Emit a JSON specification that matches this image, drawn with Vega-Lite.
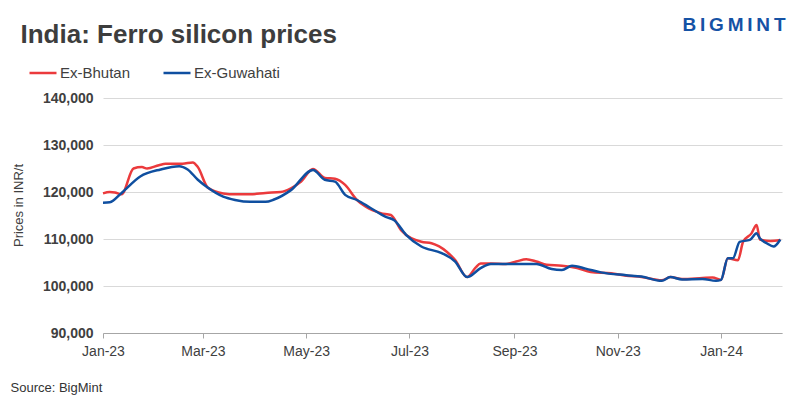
{
  "$schema": "https://vega.github.io/schema/vega-lite/v6.json",
  "width": 679,
  "height": 235,
  "autosize": "none",
  "padding": {"left": 103, "top": 98, "right": 18, "bottom": 66},
  "background": "white",
  "config": {"view": {"stroke": null}, "font": "Liberation Sans"},
  "datasets": {
    "prices": [
      {"date": "2023-01-01", "series": "Ex-Bhutan", "price": 119700},
      {"date": "2023-01-05", "series": "Ex-Bhutan", "price": 120000},
      {"date": "2023-01-08", "series": "Ex-Bhutan", "price": 119900},
      {"date": "2023-01-12", "series": "Ex-Bhutan", "price": 119500},
      {"date": "2023-01-19", "series": "Ex-Bhutan", "price": 125000},
      {"date": "2023-01-24", "series": "Ex-Bhutan", "price": 125300},
      {"date": "2023-01-27", "series": "Ex-Bhutan", "price": 125000},
      {"date": "2023-02-03", "series": "Ex-Bhutan", "price": 125700},
      {"date": "2023-02-07", "series": "Ex-Bhutan", "price": 126000},
      {"date": "2023-02-17", "series": "Ex-Bhutan", "price": 126000},
      {"date": "2023-02-23", "series": "Ex-Bhutan", "price": 126300},
      {"date": "2023-02-26", "series": "Ex-Bhutan", "price": 125300},
      {"date": "2023-03-04", "series": "Ex-Bhutan", "price": 120900},
      {"date": "2023-03-13", "series": "Ex-Bhutan", "price": 119700},
      {"date": "2023-03-20", "series": "Ex-Bhutan", "price": 119500},
      {"date": "2023-03-29", "series": "Ex-Bhutan", "price": 119500},
      {"date": "2023-04-07", "series": "Ex-Bhutan", "price": 119800},
      {"date": "2023-04-16", "series": "Ex-Bhutan", "price": 120000},
      {"date": "2023-04-22", "series": "Ex-Bhutan", "price": 120800},
      {"date": "2023-04-28", "series": "Ex-Bhutan", "price": 122200},
      {"date": "2023-05-05", "series": "Ex-Bhutan", "price": 124900},
      {"date": "2023-05-12", "series": "Ex-Bhutan", "price": 123000},
      {"date": "2023-05-18", "series": "Ex-Bhutan", "price": 122800},
      {"date": "2023-05-24", "series": "Ex-Bhutan", "price": 121500},
      {"date": "2023-05-31", "series": "Ex-Bhutan", "price": 118300},
      {"date": "2023-06-05", "series": "Ex-Bhutan", "price": 116900},
      {"date": "2023-06-14", "series": "Ex-Bhutan", "price": 115500},
      {"date": "2023-06-20", "series": "Ex-Bhutan", "price": 115100},
      {"date": "2023-06-26", "series": "Ex-Bhutan", "price": 111900},
      {"date": "2023-07-08", "series": "Ex-Bhutan", "price": 109400},
      {"date": "2023-07-14", "series": "Ex-Bhutan", "price": 109100},
      {"date": "2023-07-23", "series": "Ex-Bhutan", "price": 107300},
      {"date": "2023-07-28", "series": "Ex-Bhutan", "price": 105500},
      {"date": "2023-08-04", "series": "Ex-Bhutan", "price": 101900},
      {"date": "2023-08-09", "series": "Ex-Bhutan", "price": 103900},
      {"date": "2023-08-12", "series": "Ex-Bhutan", "price": 104800},
      {"date": "2023-08-18", "series": "Ex-Bhutan", "price": 104800},
      {"date": "2023-08-27", "series": "Ex-Bhutan", "price": 104700},
      {"date": "2023-09-02", "series": "Ex-Bhutan", "price": 105200},
      {"date": "2023-09-08", "series": "Ex-Bhutan", "price": 105700},
      {"date": "2023-09-14", "series": "Ex-Bhutan", "price": 105200},
      {"date": "2023-09-20", "series": "Ex-Bhutan", "price": 104500},
      {"date": "2023-09-29", "series": "Ex-Bhutan", "price": 104300},
      {"date": "2023-10-08", "series": "Ex-Bhutan", "price": 103800},
      {"date": "2023-10-16", "series": "Ex-Bhutan", "price": 103000},
      {"date": "2023-10-28", "series": "Ex-Bhutan", "price": 102700},
      {"date": "2023-11-06", "series": "Ex-Bhutan", "price": 102200},
      {"date": "2023-11-15", "series": "Ex-Bhutan", "price": 101900},
      {"date": "2023-11-27", "series": "Ex-Bhutan", "price": 101200},
      {"date": "2023-12-02", "series": "Ex-Bhutan", "price": 101900},
      {"date": "2023-12-09", "series": "Ex-Bhutan", "price": 101500},
      {"date": "2023-12-21", "series": "Ex-Bhutan", "price": 101700},
      {"date": "2023-12-27", "series": "Ex-Bhutan", "price": 101800},
      {"date": "2024-01-01", "series": "Ex-Bhutan", "price": 101300},
      {"date": "2024-01-05", "series": "Ex-Bhutan", "price": 105900},
      {"date": "2024-01-11", "series": "Ex-Bhutan", "price": 105500},
      {"date": "2024-01-14", "series": "Ex-Bhutan", "price": 109400},
      {"date": "2024-01-19", "series": "Ex-Bhutan", "price": 111200},
      {"date": "2024-01-22", "series": "Ex-Bhutan", "price": 113000},
      {"date": "2024-01-24", "series": "Ex-Bhutan", "price": 109900},
      {"date": "2024-01-30", "series": "Ex-Bhutan", "price": 109600},
      {"date": "2024-02-05", "series": "Ex-Bhutan", "price": 109800},
      {"date": "2023-01-01", "series": "Ex-Guwahati", "price": 117700},
      {"date": "2023-01-05", "series": "Ex-Guwahati", "price": 117800},
      {"date": "2023-01-12", "series": "Ex-Guwahati", "price": 119800},
      {"date": "2023-01-23", "series": "Ex-Guwahati", "price": 123300},
      {"date": "2023-02-04", "series": "Ex-Guwahati", "price": 124800},
      {"date": "2023-02-15", "series": "Ex-Guwahati", "price": 125500},
      {"date": "2023-02-20", "series": "Ex-Guwahati", "price": 124800},
      {"date": "2023-02-26", "series": "Ex-Guwahati", "price": 122600},
      {"date": "2023-03-04", "series": "Ex-Guwahati", "price": 120900},
      {"date": "2023-03-13", "series": "Ex-Guwahati", "price": 119000},
      {"date": "2023-03-20", "series": "Ex-Guwahati", "price": 118300},
      {"date": "2023-03-29", "series": "Ex-Guwahati", "price": 117900},
      {"date": "2023-04-07", "series": "Ex-Guwahati", "price": 117900},
      {"date": "2023-04-12", "series": "Ex-Guwahati", "price": 118400},
      {"date": "2023-04-22", "series": "Ex-Guwahati", "price": 120400},
      {"date": "2023-05-05", "series": "Ex-Guwahati", "price": 124700},
      {"date": "2023-05-12", "series": "Ex-Guwahati", "price": 122600},
      {"date": "2023-05-18", "series": "Ex-Guwahati", "price": 122200},
      {"date": "2023-05-24", "series": "Ex-Guwahati", "price": 119400},
      {"date": "2023-05-31", "series": "Ex-Guwahati", "price": 118300},
      {"date": "2023-06-08", "series": "Ex-Guwahati", "price": 116600},
      {"date": "2023-06-17", "series": "Ex-Guwahati", "price": 114700},
      {"date": "2023-06-22", "series": "Ex-Guwahati", "price": 114000},
      {"date": "2023-06-29", "series": "Ex-Guwahati", "price": 110900},
      {"date": "2023-07-08", "series": "Ex-Guwahati", "price": 108400},
      {"date": "2023-07-20", "series": "Ex-Guwahati", "price": 107000},
      {"date": "2023-07-28", "series": "Ex-Guwahati", "price": 105200},
      {"date": "2023-08-04", "series": "Ex-Guwahati", "price": 101900},
      {"date": "2023-08-12", "series": "Ex-Guwahati", "price": 103800},
      {"date": "2023-08-18", "series": "Ex-Guwahati", "price": 104700},
      {"date": "2023-08-27", "series": "Ex-Guwahati", "price": 104700},
      {"date": "2023-09-05", "series": "Ex-Guwahati", "price": 104700},
      {"date": "2023-09-14", "series": "Ex-Guwahati", "price": 104700},
      {"date": "2023-09-23", "series": "Ex-Guwahati", "price": 103600},
      {"date": "2023-09-29", "series": "Ex-Guwahati", "price": 103400},
      {"date": "2023-10-05", "series": "Ex-Guwahati", "price": 104300},
      {"date": "2023-10-13", "series": "Ex-Guwahati", "price": 103700},
      {"date": "2023-10-22", "series": "Ex-Guwahati", "price": 102900},
      {"date": "2023-11-06", "series": "Ex-Guwahati", "price": 102300},
      {"date": "2023-11-15", "series": "Ex-Guwahati", "price": 102000},
      {"date": "2023-11-27", "series": "Ex-Guwahati", "price": 101100},
      {"date": "2023-12-02", "series": "Ex-Guwahati", "price": 101900},
      {"date": "2023-12-09", "series": "Ex-Guwahati", "price": 101400},
      {"date": "2023-12-21", "series": "Ex-Guwahati", "price": 101500},
      {"date": "2023-12-29", "series": "Ex-Guwahati", "price": 101100},
      {"date": "2024-01-01", "series": "Ex-Guwahati", "price": 101300},
      {"date": "2024-01-05", "series": "Ex-Guwahati", "price": 105900},
      {"date": "2024-01-08", "series": "Ex-Guwahati", "price": 105900},
      {"date": "2024-01-12", "series": "Ex-Guwahati", "price": 109400},
      {"date": "2024-01-18", "series": "Ex-Guwahati", "price": 109800},
      {"date": "2024-01-22", "series": "Ex-Guwahati", "price": 111200},
      {"date": "2024-01-24", "series": "Ex-Guwahati", "price": 110100},
      {"date": "2024-01-28", "series": "Ex-Guwahati", "price": 109100},
      {"date": "2024-02-01", "series": "Ex-Guwahati", "price": 108400},
      {"date": "2024-02-05", "series": "Ex-Guwahati", "price": 109900}
    ]
  },
  "data": {"name": "prices"},
  "layer": [
    {
      "mark": {"type": "line", "interpolate": "monotone", "strokeWidth": 2.5},
      "encoding": {
        "x": {
          "field": "date",
          "type": "temporal",
          "scale": {"type": "utc", "domain": [{"year": 2023, "month": 1, "date": 1, "utc": true}, {"year": 2024, "month": 2, "date": 6, "utc": true}]},
          "axis": {
            "values": [
              {"year": 2023, "month": 1, "date": 1, "utc": true},
              {"year": 2023, "month": 3, "date": 1, "utc": true},
              {"year": 2023, "month": 5, "date": 1, "utc": true},
              {"year": 2023, "month": 7, "date": 1, "utc": true},
              {"year": 2023, "month": 9, "date": 1, "utc": true},
              {"year": 2023, "month": 11, "date": 1, "utc": true},
              {"year": 2024, "month": 1, "date": 1, "utc": true}
            ],
            "format": "%b-%y",
            "labelFlush": false,
            "grid": false,
            "domainColor": "#a6a6a6",
            "tickColor": "#a6a6a6",
            "tickSize": 5,
            "labelPadding": 6,
            "labelFontSize": 14,
            "labelColor": "#404040",
            "labelFont": "Liberation Sans",
            "title": "Source: BigMint",
            "titleFontSize": 13,
            "titleFontWeight": 500,
            "titleColor": "#333333",
            "titleAlign": "left",
            "titleAnchor": null,
            "titleX": -93,
            "titleY": 58,
            "titleBaseline": "alphabetic"
          }
        },
        "y": {
          "field": "price",
          "type": "quantitative",
          "scale": {"domain": [90000, 140000], "nice": false, "zero": false},
          "axis": {
            "values": [90000, 100000, 110000, 120000, 130000, 140000],
            "format": ",.0f",
            "domain": false,
            "ticks": false,
            "gridColor": "#d9d9d9",
            "labelPadding": 10,
            "labelFontSize": 14,
            "labelFontWeight": "bold",
            "labelColor": "#404040",
            "title": "Prices in INR/t",
            "titleFontSize": 13,
            "titleFontWeight": "normal",
            "titleColor": "#404040",
            "titleAngle": 270,
            "titleX": -85,
            "titleY": 107,
            "titleAlign": "center",
            "titleBaseline": "middle"
          }
        },
        "color": {
          "field": "series",
          "type": "nominal",
          "scale": {"domain": ["Ex-Bhutan", "Ex-Guwahati"], "range": ["#eb3a3c", "#0f4fa0"]},
          "legend": {
            "orient": "none",
            "direction": "horizontal",
            "legendX": -75,
            "legendY": -40,
            "title": null,
            "padding": 0,
            "symbolType": "stroke",
            "symbolSize": 729,
            "symbolStrokeWidth": 2.5,
            "labelFontSize": 15,
            "labelColor": "#404040",
            "labelOffset": 2,
            "columnPadding": 27
          }
        }
      }
    },
    {
      "mark": {"type": "rule", "opacity": 0},
      "encoding": {
        "x": {
          "field": "date",
          "type": "temporal",
          "axis": {
            "orient": "top",
            "labels": false,
            "ticks": false,
            "domain": false,
            "grid": false,
            "title": "India: Ferro silicon prices",
            "titleFontSize": 26,
            "titleFontWeight": "bold",
            "titleColor": "#3d3d3d",
            "titleAlign": "left",
            "titleAnchor": null,
            "titleX": -83,
            "titleY": -56,
            "titleBaseline": "alphabetic"
          }
        }
      }
    },
    {
      "mark": {"type": "rule", "opacity": 0},
      "encoding": {
        "y": {
          "field": "price",
          "type": "quantitative",
          "axis": {
            "orient": "right",
            "labels": false,
            "ticks": false,
            "domain": false,
            "grid": false,
            "title": "B\u2009I\u2009G\u2009M\u2009I\u2009N\u2009T",
            "titleAngle": 0,
            "titleFontSize": 19,
            "titleFontWeight": "bold",
            "titleColor": "#1552a5",
            "titleAlign": "right",
            "titleAnchor": null,
            "titleX": 3,
            "titleY": -68,
            "titleBaseline": "alphabetic"
          }
        }
      }
    }
  ],
  "resolve": {"axis": {"x": "independent", "y": "independent"}}
}
